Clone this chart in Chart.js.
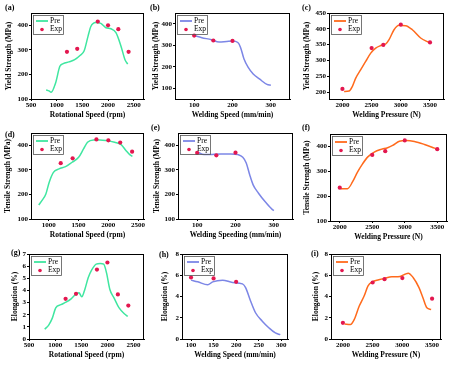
<!DOCTYPE html>
<html>
<head>
<meta charset="utf-8">
<script src="https://cdn.jsdelivr.net/npm/chart.js@4.4.1/dist/chart.umd.min.js"></script>
<style>
body { margin: 0; width: 474px; height: 366px; background: #fff; position: relative; overflow: hidden; font-family: "Liberation Serif", serif; }
canvas { position: absolute; }
.tag { position: absolute; font-weight: bold; font-size: 8px; line-height: 8px; color: #000; }
</style>
</head>
<body>
<script>
'use strict';

// shared experimental x values
const rpmExp = [1200, 1400, 1800, 2000, 2200, 2400];
const speedExp = [100, 150, 200];
const pressureExp = [2000, 2500, 2700, 3000, 3500];

// (a) yield strength vs rotational speed
const rpmPreA = [794, 850, 892, 977, 1062, 1127, 1239, 1350, 1454, 1533, 1611, 1663, 1761, 1859, 1958, 2056, 2154, 2252, 2330, 2382];
const yieldPreA = [137, 133, 127, 164, 233, 244, 251, 260, 277, 295, 356, 394, 411, 408, 390, 386, 370, 315, 260, 242];
const yieldExpA = [292, 304, 415, 400, 384, 292];

// (b) yield strength vs welding speed
const speedPreB = [100, 120, 145, 165, 185, 200, 214, 221, 230, 241, 254, 271, 290, 300];
const yieldPreB = [345, 335, 326, 315, 318, 320, 313, 290, 236, 197, 166, 142, 118, 114];
const yieldExpB = [345, 322, 320];

// (c) yield strength vs welding pressure
const pressurePreC = [2029, 2114, 2171, 2228, 2314, 2399, 2485, 2570, 2656, 2741, 2799, 2884, 2970, 3084, 3198, 3340, 3483];
const yieldPreC = [202, 203, 218, 244, 271, 297, 323, 339, 347, 352, 366, 397, 411, 410, 397, 371, 357];
const yieldExpC = [210, 339, 349, 413, 357];

// (d) tensile strength vs rotational speed
const rpmPreD = [830, 895, 950, 1005, 1077, 1171, 1281, 1391, 1501, 1583, 1650, 1749, 1859, 1969, 2106, 2216, 2299, 2360, 2405];
const tensilePreD = [157, 179, 202, 249, 290, 304, 313, 331, 351, 385, 412, 422, 422, 419, 412, 403, 378, 362, 355];
const tensileExpD = [327, 347, 424, 420, 411, 374];

// (e) tensile strength vs welding speed
const speedPreE = [100, 118, 135, 162, 188, 206, 219, 228, 237, 246, 260, 277, 295, 300];
const tensilePreE = [373, 362, 363, 365, 365, 362, 351, 328, 280, 239, 205, 171, 140, 134];
const tensileExpE = [369, 359, 370];

// (f) tensile strength vs welding pressure
const pressurePreF = [2015, 2119, 2196, 2273, 2351, 2428, 2531, 2634, 2737, 2814, 2918, 3021, 3149, 3304, 3459, 3500];
const tensilePreF = [230, 230, 257, 297, 330, 357, 377, 388, 395, 404, 421, 424, 420, 408, 393, 389];
const tensileExpF = [234, 366, 381, 424, 389];

// (g) elongation vs rotational speed
const rpmPreG = [801, 880, 946, 1011, 1110, 1208, 1306, 1392, 1457, 1510, 1568, 1634, 1700, 1785, 1864, 1929, 1982, 2047, 2126, 2224, 2323, 2389];
const elongPreG = [0.8, 1.17, 1.72, 2.56, 2.83, 3.03, 3.31, 3.67, 3.8, 3.47, 4.08, 5.06, 5.69, 6.17, 6.22, 6.17, 5.47, 4.08, 3.39, 2.56, 2.08, 1.86];
const elongExpG = [3.31, 3.72, 5.72, 6.3, 3.67, 2.75];

// (h) elongation vs welding speed
const speedPreH = [100, 115, 137, 148, 170, 192, 214, 221, 232, 243, 258, 273, 287, 298];
const elongPreH = [5.54, 5.38, 5.1, 5.38, 5.54, 5.32, 5.19, 4.84, 3.58, 2.47, 1.68, 1.04, 0.57, 0.41];
const elongExpH = [5.79, 5.7, 5.38];

// (i) elongation vs welding pressure
const pressurePreI = [2027, 2126, 2192, 2275, 2357, 2423, 2494, 2604, 2714, 2824, 2962, 3044, 3099, 3181, 3280, 3346, 3412, 3484];
const elongPreI = [1.42, 1.36, 1.84, 3.1, 4.05, 5.0, 5.38, 5.57, 5.73, 5.85, 5.89, 6.1, 6.2, 5.79, 4.84, 3.89, 2.94, 2.78];
const elongExpI = [1.52, 5.32, 5.63, 5.73, 3.8];

// tick labels
const rpmTicksA = [500, 1000, 1500, 2000, 2500];
const rpmTicksD = [1000, 1500, 2000, 2500];
const speedTicks = [100, 200, 300];
const speedTicksH = [100, 150, 200, 250, 300];
const pressureTicks = [2000, 2500, 3000, 3500];
const strengthTicks = [100, 200, 300, 400];
const strengthTicksC = [200, 250, 300, 350, 400, 450];
const elongTicksG = [0, 1, 2, 3, 4, 5, 6, 7];
const elongTicksH = [0, 1, 2, 3, 4, 5, 6, 7, 8];

const seriesLabels = ['Pre', 'Exp'];

const green = '#3fe6a0';
const blue = '#7c86e6';
const orange = '#ff6a1c';
const expColor = '#e3174f';

Chart.defaults.font.family = '"Liberation Serif", serif';
Chart.defaults.color = '#000';

const framePlugin = {
    id: 'frame',
    afterDraw(chart) {
        const a = chart.chartArea;
        const ctx = chart.ctx;
        ctx.save();
        ctx.strokeStyle = '#000';
        ctx.lineWidth = 1;
        ctx.strokeRect(a.left + 0.5, a.top + 0.5, a.right - a.left - 1, a.bottom - a.top);
        ctx.restore();
    }
};

// legend drawn inside the plot, top-left
const boxLegend = {
    id: 'boxLegend',
    afterDraw(chart) {
        const a = chart.chartArea;
        const ctx = chart.ctx;
        const ds = chart.data.datasets;
        const x = a.left + 2, y = a.top + 2;
        ctx.save();
        ctx.strokeStyle = '#555';
        ctx.lineWidth = 0.8;
        ctx.strokeRect(x + 0.5, y + 0.5, 30, 19);
        ctx.strokeStyle = ds[0].borderColor;
        ctx.lineWidth = 1.8;
        ctx.beginPath();
        ctx.moveTo(x + 3, y + 6);
        ctx.lineTo(x + 15, y + 6);
        ctx.stroke();
        ctx.fillStyle = ds[1].backgroundColor;
        ctx.beginPath();
        ctx.arc(x + 9, y + 14.5, 1.8, 0, Math.PI * 2);
        ctx.fill();
        ctx.fillStyle = '#000';
        ctx.font = '7.5px "Liberation Serif", serif';
        ctx.textBaseline = 'middle';
        ctx.fillText(ds[0].label, x + 17, y + 6);
        ctx.fillText(ds[1].label, x + 17, y + 14.5);
        ctx.restore();
    }
};

function toPoints(xs, ys) {
    return xs.map((x, i) => ({ x: x, y: ys[i] }));
}

function buildPanel(p) {
    const [L, T, R, B] = p.rect;
    const left = L - 27;
    const top = T - 13;
    const cv = document.createElement('canvas');
    cv.width = R - L + 35;
    cv.height = B - T + 34;
    cv.style.left = left + 'px';
    cv.style.top = top + 'px';
    document.body.appendChild(cv);

    const tag = document.createElement('span');
    tag.className = 'tag';
    tag.textContent = '(' + p.id + ')';
    tag.style.left = p.tag[0] + 'px';
    tag.style.top = p.tag[1] + 'px';
    document.body.appendChild(tag);

    const tickFont = { size: 7, weight: 'bold' };
    const titleFont = { size: 7.5, weight: 'bold' };

    return new Chart(cv, {
        type: 'scatter',
        data: {
            datasets: [{
                label: seriesLabels[0],
                data: toPoints(p.preX, p.preY),
                showLine: true,
                borderColor: p.color,
                backgroundColor: p.color,
                borderWidth: 1.5,
                pointRadius: 0,
                cubicInterpolationMode: 'monotone',
                order: 2
            }, {
                label: seriesLabels[1],
                data: toPoints(p.expX, p.expY),
                backgroundColor: expColor,
                borderWidth: 0,
                pointRadius: 2.1,
                order: 1
            }]
        },
        options: {
            responsive: false,
            animation: false,
            layout: { padding: { left: 0, top: 13, right: 8, bottom: 0 } },
            plugins: { legend: { display: false }, tooltip: { enabled: false } },
            scales: {
                x: {
                    type: 'linear',
                    min: p.xRange[0],
                    max: p.xRange[1],
                    afterBuildTicks: ax => { ax.ticks = p.xTicks.map(v => ({ value: v })); },
                    afterFit: ax => { ax.height = 21; },
                    grid: { drawOnChartArea: false, tickLength: 2, color: '#000' },
                    border: { color: '#000' },
                    ticks: { padding: 0, font: tickFont, color: '#000', maxRotation: 0, callback: v => String(v) },
                    title: { display: true, text: p.xTitle, font: titleFont, color: '#000', padding: 0 }
                },
                y: {
                    type: 'linear',
                    min: p.yRange[0],
                    max: p.yRange[1],
                    afterBuildTicks: ax => { ax.ticks = p.yTicks.map(v => ({ value: v })); },
                    afterFit: ax => { ax.width = 27; },
                    grid: { drawOnChartArea: false, tickLength: 2, color: '#000' },
                    border: { color: '#000' },
                    ticks: { padding: 1, font: tickFont, color: '#000', callback: v => String(v) },
                    title: { display: true, text: p.yTitle, font: titleFont, color: '#000', padding: { top: Math.max(0, p.yTitleX - left - 4.5), bottom: 0 } }
                }
            }
        },
        plugins: [framePlugin, boxLegend]
    });
}

const panels = [
    { id: 'a', rect: [31, 13, 144, 99], tag: [5, 4], yTitleX: 9, color: green,
      preX: rpmPreA, preY: yieldPreA, expX: rpmExp, expY: yieldExpA,
      xRange: [500, 2700], yRange: [100, 450], xTicks: rpmTicksA, yTicks: strengthTicks,
      xTitle: 'Rotational Speed (rpm)', yTitle: 'Yield Strength (MPa)' },
    { id: 'b', rect: [175, 13, 290, 99], tag: [150, 4], yTitleX: 156, color: blue,
      preX: speedPreB, preY: yieldPreB, expX: speedExp, expY: yieldExpB,
      xRange: [50, 350], yRange: [50, 450], xTicks: speedTicks, yTicks: strengthTicks,
      xTitle: 'Welding Speed (mm/min)', yTitle: 'Yield Strength (MPa)' },
    { id: 'c', rect: [329, 13, 444, 99], tag: [302, 4], yTitleX: 307, color: orange,
      preX: pressurePreC, preY: yieldPreC, expX: pressureExp, expY: yieldExpC,
      xRange: [1770, 3740], yRange: [178, 450], xTicks: pressureTicks, yTicks: strengthTicksC,
      xTitle: 'Welding Pressure (N)', yTitle: 'Yield Strength (MPa)' },
    { id: 'd', rect: [31, 133, 144, 219], tag: [5, 131], yTitleX: 8, color: green,
      preX: rpmPreD, preY: tensilePreD, expX: rpmExp, expY: tensileExpD,
      xRange: [700, 2600], yRange: [100, 450], xTicks: rpmTicksD, yTicks: strengthTicks,
      xTitle: 'Rotational Speed (rpm)', yTitle: 'Tensile Strength (MPa)' },
    { id: 'e', rect: [178, 133, 293, 219], tag: [151, 124], yTitleX: 157, color: blue,
      preX: speedPreE, preY: tensilePreE, expX: speedExp, expY: tensileExpE,
      xRange: [50, 350], yRange: [100, 450], xTicks: speedTicks, yTicks: strengthTicks,
      xTitle: 'Welding Speeding (mm/min)', yTitle: 'Tensile Strength (MPa)' },
    { id: 'f', rect: [330, 134, 447, 221], tag: [302, 124], yTitleX: 307, color: orange,
      preX: pressurePreF, preY: tensilePreF, expX: pressureExp, expY: tensileExpF,
      xRange: [1850, 3650], yRange: [100, 450], xTicks: pressureTicks, yTicks: strengthTicks,
      xTitle: 'Welding Pressure (N)', yTitle: 'Tensile Strength (MPa)' },
    { id: 'g', rect: [29, 254, 144, 339], tag: [11, 249], yTitleX: 15, color: green,
      preX: rpmPreG, preY: elongPreG, expX: rpmExp, expY: elongExpG,
      xRange: [500, 2700], yRange: [0, 7], xTicks: rpmTicksA, yTicks: elongTicksG,
      xTitle: 'Rotational Speed (rpm)', yTitle: 'Elongation (%)' },
    { id: 'h', rect: [182, 254, 288, 339], tag: [159, 251], yTitleX: 165, color: blue,
      preX: speedPreH, preY: elongPreH, expX: speedExp, expY: elongExpH,
      xRange: [80, 315], yRange: [0, 8], xTicks: speedTicksH, yTicks: elongTicksH,
      xTitle: 'Welding Speed (mm/min)', yTitle: 'Elongation (%)' },
    { id: 'i', rect: [331, 254, 441, 339], tag: [311, 250], yTitleX: 316, color: orange,
      preX: pressurePreI, preY: elongPreI, expX: pressureExp, expY: elongExpI,
      xRange: [1800, 3650], yRange: [0, 8], xTicks: pressureTicks, yTicks: elongTicksH,
      xTitle: 'Welding Pressure (N)', yTitle: 'Elongation (%)' }
];

panels.forEach(buildPanel);
</script>
</body>
</html>
